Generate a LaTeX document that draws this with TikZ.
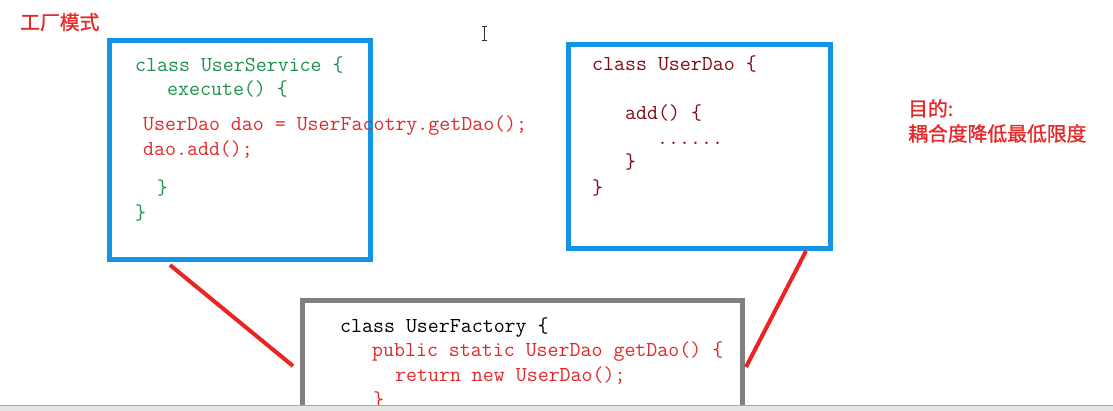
\documentclass[tikz,border=0pt]{standalone}
\usepackage{fontspec}
\newfontfamily\cjk[FakeBold=1.2]{Noto Sans CJK SC}
\definecolor{boxblue}{RGB}{18,150,228}
\definecolor{boxgray}{RGB}{128,128,128}
\definecolor{linkred}{RGB}{235,35,35}
\definecolor{codered}{RGB}{225,40,40}
\definecolor{codegreen}{RGB}{30,145,75}
\definecolor{codemaroon}{RGB}{128,10,20}
\definecolor{titlered}{RGB}{230,40,40}
\begin{document}
\begin{tikzpicture}[x=1pt,y=-1pt,
  bluebox/.style={draw=boxblue, line width=5pt, inner sep=0pt},
  graybox/.style={draw=boxgray, line width=5pt, inner sep=0pt},
  code/.style={anchor=base west, inner sep=0pt, font=\ttfamily\fontsize{21.3}{25}\selectfont},
  link/.style={draw=linkred, line width=4pt},
  cjktext/.style={anchor=base west, inner sep=0pt, font=\cjk\fontsize{19.8}{24}\selectfont, text=titlered}]
\useasboundingbox (0,0) rectangle (1113,410);
\clip (0,0) rectangle (1113,410);
\fill[white] (0,0) rectangle (1113,410);

% boxes
\node[bluebox, minimum width=261pt, minimum height=219pt] (svc) at (240,150) {};
\node[bluebox, minimum width=262pt, minimum height=204pt] (dao) at (699.5,146.5) {};
\node[graybox, minimum width=440.5pt, minimum height=150pt] (fac) at (522.25,375) {};

% title
\node[cjktext] (title) at (20,29.5) {工厂模式};

% UserService code
\node[code, text=codegreen] (s1) at (135,71) {class UserService \{};
\node[code, text=codegreen] (s2) at (167,95.5) {execute() \{};
\node[code, text=codered] (s3) at (143,130.5) {UserDao dao = UserFacotry.getDao();};
\node[code, text=codered] (s4) at (143,155) {dao.add();};
\node[code, text=codegreen] (s5) at (157,194) {\}};
\node[code, text=codegreen] (s6) at (135,219) {\}};

% UserDao code
\node[code, text=codemaroon] (d1) at (592,70) {class UserDao \{};
\node[code, text=codemaroon] (d2) at (625,119) {add() \{};
\node[code, text=codemaroon] (d3) at (657,144) {......};
\node[code, text=codemaroon] (d4) at (625,168) {\}};
\node[code, text=codemaroon] (d5) at (592,194) {\}};

% UserFactory code
\node[code, text=black] (f1) at (340,332) {class UserFactory \{};
\node[code, text=codered] (f2) at (372,356) {public static UserDao getDao() \{};
\node[code, text=codered] (f3) at (395,381) {return new UserDao();};
\node[code, text=codered] (f4) at (373,406) {\}};

% goal text
\node[cjktext] (goal1) at (908,116) {目的:};
\node[cjktext] (goal2) at (908,141) {耦合度降低最低限度};

% connectors
\coordinate (l1a) at (170,265);
\coordinate (l1b) at (293,366);
\coordinate (l2a) at (806,251);
\coordinate (l2b) at (746,367);
\draw[link] (l1a) -- (l1b);
\draw[link] (l2a) -- (l2b);

% text cursor
\draw[line width=1pt, black!80] (481.5,26) -- (486.5,26) (484,26) -- (484,40) (481.5,40) -- (486.5,40);

% bottom window bar
\fill[black!10] (-5,405.5) rectangle (1120,415);
\draw[black!35, line width=0.8pt] (-5,405.5) -- (1120,405.5);
\end{tikzpicture}
\end{document}
